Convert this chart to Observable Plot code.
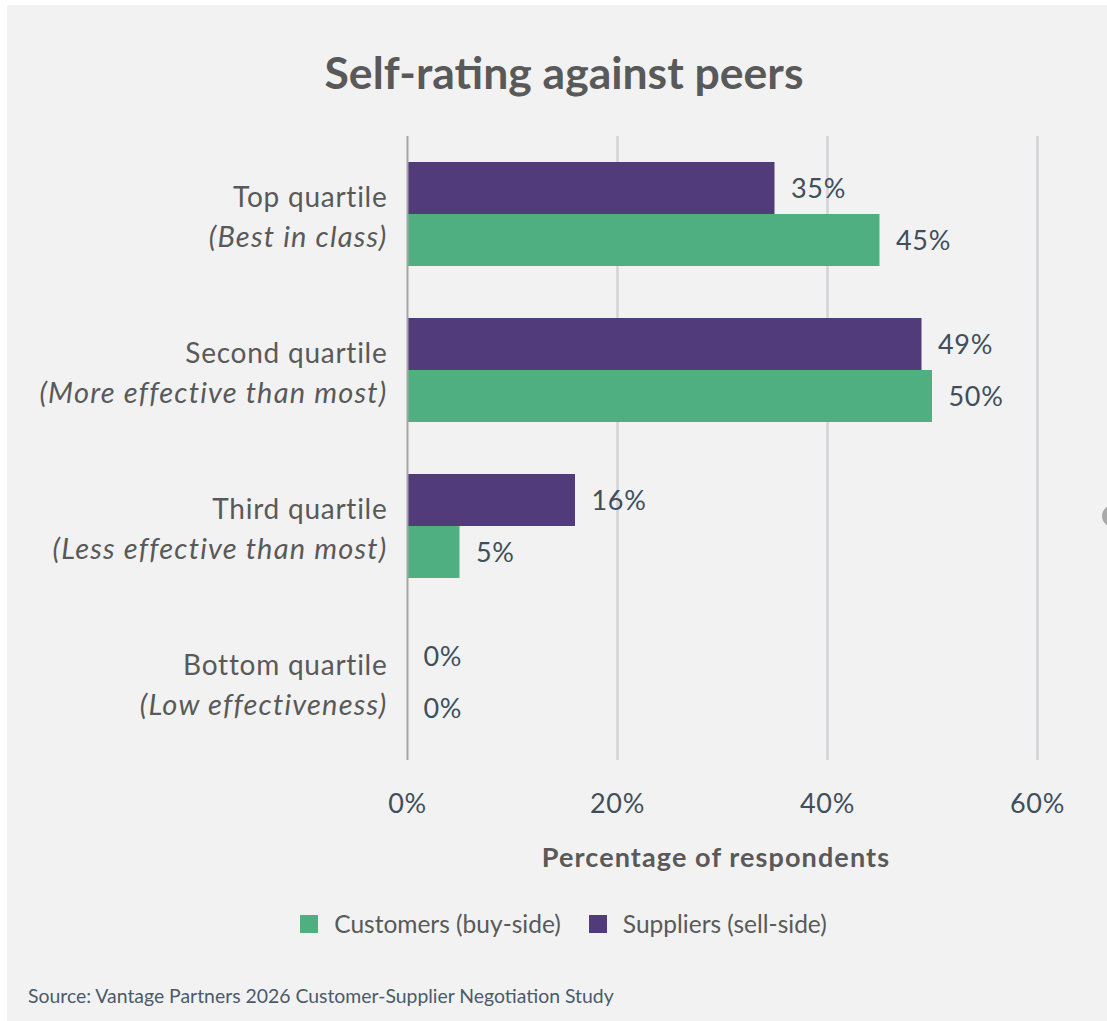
<!DOCTYPE html>
<html>
<head>
<meta charset="utf-8">
<script src="https://cdn.jsdelivr.net/npm/d3@7"></script>
<script src="https://cdn.jsdelivr.net/npm/@observablehq/plot@0.6"></script>
<style>
  html, body { margin: 0; padding: 0; background: #ffffff; }
  body { width: 1107px; height: 1021px; position: relative; overflow: hidden; font-family: Lato, "Open Sans", sans-serif; }
  #panel { position: absolute; left: 7px; top: 5px; width: 1100px; height: 1016px; background: #f2f2f2; }
  #title { position: absolute; left: 0; top: 45px; width: 1128px; text-align: center; font-size: 44.5px; font-weight: 700; color: #595959; }
  #chart { position: absolute; left: 7px; top: 107px; }
  #xtitle { position: absolute; left: 466px; top: 840px; width: 500px; text-align: center; font-size: 27px; letter-spacing: 1.1px; font-weight: 700; color: #595959; }
  #legend { position: absolute; left: 0; top: 909px; width: 1107px; display: flex; justify-content: center; align-items: center; font-size: 24.5px; color: #595959; padding-left: 20px; box-sizing: border-box; }
  #legend .item { display: flex; align-items: center; margin: 0 14px; }
  #legend .sw { width: 18px; height: 18px; margin-right: 16px; }
  #source { position: absolute; left: 28px; top: 984px; font-size: 19.4px; color: #4a5a6a; }
  #dot { position: absolute; left: 1102px; top: 505px; width: 22px; height: 22px; border-radius: 50%; background: #a9a9a9; }
</style>
</head>
<body>
<div id="panel"></div>
<div id="title">Self-rating against peers</div>
<div id="chart"></div>
<div id="xtitle">Percentage of respondents</div>
<div id="legend"></div>
<div id="source">Source: Vantage Partners 2026 Customer-Supplier Negotiation Study</div>
<div id="dot"></div>
<script>
// ---- data ----
const categories = ["Top quartile", "Second quartile", "Third quartile", "Bottom quartile"];
const subtitles = ["(Best in class)", "(More effective than most)", "(Less effective than most)", "(Low effectiveness)"];
const seriesNames = ["Suppliers (sell-side)", "Customers (buy-side)"];
const suppliers = [35, 49, 16, 0];
const customers = [45, 50, 5, 0];
const xTicks = [0, 20, 40, 60];
const legendOrder = ["Customers (buy-side)", "Suppliers (sell-side)"];
const colors = {"Suppliers (sell-side)": "#513b7b", "Customers (buy-side)": "#4faf80"};

// ---- build table ----
const rows = [];
categories.forEach((c, i) => {
  rows.push({cat: c, series: seriesNames[0], value: suppliers[i]});
  rows.push({cat: c, series: seriesNames[1], value: customers[i]});
});
const catRows = categories.map((c, i) => ({cat: c, l1: c, l2: subtitles[i]}));

const labelColor = "#3e4f5b";

const chart = Plot.plot({
  width: 1100,
  height: 720,
  marginTop: 27,
  marginBottom: 66,
  marginLeft: 400,
  marginRight: 70,
  style: {background: "transparent", fontFamily: "Lato, 'Open Sans', sans-serif", fontSize: "24px", overflow: "visible"},
  x: {domain: [0, 60], axis: null},
  y: {domain: seriesNames, axis: null, paddingInner: 0, paddingOuter: 0.5},
  fy: {domain: categories, axis: null, padding: 0},
  marks: [
    Plot.gridX([20, 40, 60], {stroke: "#d3d3d6", strokeOpacity: 1, strokeWidth: 2.5}),
    Plot.barX(rows, {fy: "cat", y: "series", x: "value", fill: d => colors[d.series]}),
    Plot.ruleX([0], {stroke: "#a6a6a6", strokeWidth: 2}),
    Plot.text(rows, {fy: "cat", y: "series", x: "value", text: d => d.value + "%", dx: 16, dy: 1, textAnchor: "start", fill: labelColor, fontSize: 27}),
    Plot.text(catRows, {fy: "cat", x: () => 0, text: "l1", dx: -20, dy: -16, textAnchor: "end", fill: "#595959", fontSize: 28}),
    Plot.text(catRows, {fy: "cat", x: () => 0, text: "l2", dx: -20, dy: 23, textAnchor: "end", fill: "#595959", fontSize: 29, fontStyle: "italic"}),
    Plot.axisX(xTicks, {tickFormat: d => d + "%", tickSize: 0, tickPadding: 33, fontSize: 27, fill: labelColor, anchor: "bottom", label: null})
  ]
});
// letter spacing tweaks
chart.querySelectorAll("g[aria-label='text']").forEach((g, i) => {
  const ls = [0.7, 0.75, 1.2][i];
  if (ls !== undefined) g.style.letterSpacing = ls + "px";
});
chart.querySelectorAll("g[aria-label='x-axis tick label']").forEach(g => g.style.letterSpacing = "0.7px");
document.getElementById("chart").appendChild(chart);

// legend
const leg = document.getElementById("legend");
legendOrder.forEach(s => {
  const it = document.createElement("div");
  it.className = "item";
  const sw = document.createElement("div");
  sw.className = "sw";
  sw.style.background = colors[s];
  const tx = document.createElement("span");
  tx.textContent = s;
  it.appendChild(sw); it.appendChild(tx);
  leg.appendChild(it);
});
</script>
</body>
</html>
